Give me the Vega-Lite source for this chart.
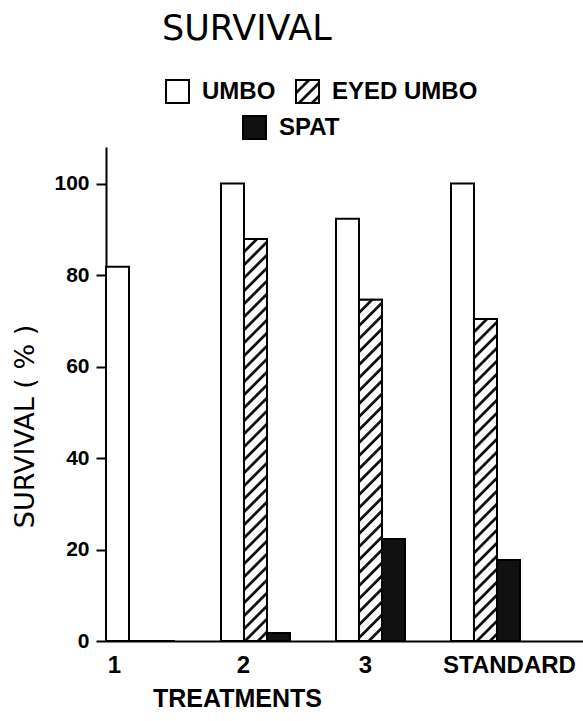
{
  "$schema": "https://vega.github.io/schema/vega-lite/v6.json",
  "width": 477,
  "height": 494,
  "autosize": {"type": "none"},
  "padding": {"left": 106, "top": 147, "right": 0, "bottom": 80},
  "background": "white",
  "config": {
    "view": {"stroke": null},
    "font": "Liberation Sans",
    "legend": {
      "orient": "none",
      "direction": "horizontal",
      "title": null,
      "symbolType": "square",
      "symbolSize": 529,
      "symbolStrokeColor": "black",
      "symbolStrokeWidth": 2,
      "symbolOpacity": 1,
      "labelFont": "Liberation Sans",
      "labelFontSize": 24,
      "labelFontWeight": "bold",
      "labelColor": "black",
      "labelOffset": 12,
      "labelLimit": 300,
      "columnPadding": 16,
      "padding": 0
    }
  },
  "params": [
    {"name": "hatchStops", "value": [
      {"offset":0,"color":"#fff"},
      {"offset":0.020,"color":"#fff"},{"offset":0.0225,"color":"#111"},{"offset":0.0275,"color":"#111"},{"offset":0.030,"color":"#fff"},
      {"offset":0.045,"color":"#fff"},{"offset":0.0475,"color":"#111"},{"offset":0.0525,"color":"#111"},{"offset":0.055,"color":"#fff"},
      {"offset":0.070,"color":"#fff"},{"offset":0.0725,"color":"#111"},{"offset":0.0775,"color":"#111"},{"offset":0.080,"color":"#fff"},
      {"offset":0.095,"color":"#fff"},{"offset":0.0975,"color":"#111"},{"offset":0.1025,"color":"#111"},{"offset":0.105,"color":"#fff"},
      {"offset":0.120,"color":"#fff"},{"offset":0.1225,"color":"#111"},{"offset":0.1275,"color":"#111"},{"offset":0.130,"color":"#fff"},
      {"offset":0.145,"color":"#fff"},{"offset":0.1475,"color":"#111"},{"offset":0.1525,"color":"#111"},{"offset":0.155,"color":"#fff"},
      {"offset":0.170,"color":"#fff"},{"offset":0.1725,"color":"#111"},{"offset":0.1775,"color":"#111"},{"offset":0.180,"color":"#fff"},
      {"offset":0.195,"color":"#fff"},{"offset":0.1975,"color":"#111"},{"offset":0.2025,"color":"#111"},{"offset":0.205,"color":"#fff"},
      {"offset":0.220,"color":"#fff"},{"offset":0.2225,"color":"#111"},{"offset":0.2275,"color":"#111"},{"offset":0.230,"color":"#fff"},
      {"offset":0.245,"color":"#fff"},{"offset":0.2475,"color":"#111"},{"offset":0.2525,"color":"#111"},{"offset":0.255,"color":"#fff"},
      {"offset":0.270,"color":"#fff"},{"offset":0.2725,"color":"#111"},{"offset":0.2775,"color":"#111"},{"offset":0.280,"color":"#fff"},
      {"offset":0.295,"color":"#fff"},{"offset":0.2975,"color":"#111"},{"offset":0.3025,"color":"#111"},{"offset":0.305,"color":"#fff"},
      {"offset":0.320,"color":"#fff"},{"offset":0.3225,"color":"#111"},{"offset":0.3275,"color":"#111"},{"offset":0.330,"color":"#fff"},
      {"offset":0.345,"color":"#fff"},{"offset":0.3475,"color":"#111"},{"offset":0.3525,"color":"#111"},{"offset":0.355,"color":"#fff"},
      {"offset":0.370,"color":"#fff"},{"offset":0.3725,"color":"#111"},{"offset":0.3775,"color":"#111"},{"offset":0.380,"color":"#fff"},
      {"offset":0.395,"color":"#fff"},{"offset":0.3975,"color":"#111"},{"offset":0.4025,"color":"#111"},{"offset":0.405,"color":"#fff"},
      {"offset":0.420,"color":"#fff"},{"offset":0.4225,"color":"#111"},{"offset":0.4275,"color":"#111"},{"offset":0.430,"color":"#fff"},
      {"offset":0.445,"color":"#fff"},{"offset":0.4475,"color":"#111"},{"offset":0.4525,"color":"#111"},{"offset":0.455,"color":"#fff"},
      {"offset":0.470,"color":"#fff"},{"offset":0.4725,"color":"#111"},{"offset":0.4775,"color":"#111"},{"offset":0.480,"color":"#fff"},
      {"offset":0.495,"color":"#fff"},{"offset":0.4975,"color":"#111"},{"offset":0.5025,"color":"#111"},{"offset":0.505,"color":"#fff"},
      {"offset":0.520,"color":"#fff"},{"offset":0.5225,"color":"#111"},{"offset":0.5275,"color":"#111"},{"offset":0.530,"color":"#fff"},
      {"offset":0.545,"color":"#fff"},{"offset":0.5475,"color":"#111"},{"offset":0.5525,"color":"#111"},{"offset":0.555,"color":"#fff"},
      {"offset":0.570,"color":"#fff"},{"offset":0.5725,"color":"#111"},{"offset":0.5775,"color":"#111"},{"offset":0.580,"color":"#fff"},
      {"offset":0.595,"color":"#fff"},{"offset":0.5975,"color":"#111"},{"offset":0.6025,"color":"#111"},{"offset":0.605,"color":"#fff"},
      {"offset":0.620,"color":"#fff"},{"offset":0.6225,"color":"#111"},{"offset":0.6275,"color":"#111"},{"offset":0.630,"color":"#fff"},
      {"offset":0.645,"color":"#fff"},{"offset":0.6475,"color":"#111"},{"offset":0.6525,"color":"#111"},{"offset":0.655,"color":"#fff"},
      {"offset":0.670,"color":"#fff"},{"offset":0.6725,"color":"#111"},{"offset":0.6775,"color":"#111"},{"offset":0.680,"color":"#fff"},
      {"offset":0.695,"color":"#fff"},{"offset":0.6975,"color":"#111"},{"offset":0.7025,"color":"#111"},{"offset":0.705,"color":"#fff"},
      {"offset":0.720,"color":"#fff"},{"offset":0.7225,"color":"#111"},{"offset":0.7275,"color":"#111"},{"offset":0.730,"color":"#fff"},
      {"offset":0.745,"color":"#fff"},{"offset":0.7475,"color":"#111"},{"offset":0.7525,"color":"#111"},{"offset":0.755,"color":"#fff"},
      {"offset":0.770,"color":"#fff"},{"offset":0.7725,"color":"#111"},{"offset":0.7775,"color":"#111"},{"offset":0.780,"color":"#fff"},
      {"offset":0.795,"color":"#fff"},{"offset":0.7975,"color":"#111"},{"offset":0.8025,"color":"#111"},{"offset":0.805,"color":"#fff"},
      {"offset":0.820,"color":"#fff"},{"offset":0.8225,"color":"#111"},{"offset":0.8275,"color":"#111"},{"offset":0.830,"color":"#fff"},
      {"offset":0.845,"color":"#fff"},{"offset":0.8475,"color":"#111"},{"offset":0.8525,"color":"#111"},{"offset":0.855,"color":"#fff"}
    ]}
  ],
  "title": {
    "text": "SURVIVAL",
    "anchor": "start",
    "frame": "group",
    "dx": 56,
    "offset": 32,
    "font": "DejaVu Sans",
    "fontSize": 35,
    "fontWeight": "normal",
    "color": "black"
  },
  "data": {
    "values": [
      {"treatment": "1", "stage": "UMBO", "survival": 81.8},
      {"treatment": "1", "stage": "EYED UMBO", "survival": 0},
      {"treatment": "1", "stage": "SPAT", "survival": 0},
      {"treatment": "2", "stage": "UMBO", "survival": 100},
      {"treatment": "2", "stage": "EYED UMBO", "survival": 87.9},
      {"treatment": "2", "stage": "SPAT", "survival": 1.75},
      {"treatment": "3", "stage": "UMBO", "survival": 92.3},
      {"treatment": "3", "stage": "EYED UMBO", "survival": 74.6},
      {"treatment": "3", "stage": "SPAT", "survival": 22.3},
      {"treatment": "STANDARD", "stage": "UMBO", "survival": 100},
      {"treatment": "STANDARD", "stage": "EYED UMBO", "survival": 70.4},
      {"treatment": "STANDARD", "stage": "SPAT", "survival": 17.7}
    ]
  },
  "encoding": {
    "x": {
      "field": "treatment",
      "type": "nominal",
      "sort": ["1", "2", "3", "STANDARD"],
      "scale": {"domain": ["1", "2", "3", "STANDARD"], "paddingInner": 0.4, "paddingOuter": 0.274, "align": 0},
      "axis": {
        "title": "TREATMENTS",
        "titleFont": "Liberation Sans",
        "titleFontSize": 25,
        "titleFontWeight": "bold",
        "titleColor": "black",
        "titleX": 131,
        "titleY": 45,
        "titleAlign": "center",
        "titleBaseline": "top",
        "labelAngle": 0,
        "labelFont": "Liberation Sans",
        "labelFontSize": 24,
        "labelFontWeight": "bold",
        "labelColor": "black",
        "labelPadding": 12,
        "ticks": false,
        "tickSize": 0,
        "domainColor": "black",
        "domainWidth": 2,
        "labelOffset": {
          "condition": [
            {"test": "datum.value === '1'", "value": -26},
            {"test": "datum.value === '2'", "value": -12},
            {"test": "datum.value === '3'", "value": -5}
          ],
          "value": 24
        }
      }
    },
    "xOffset": {
      "field": "stage",
      "type": "nominal",
      "sort": ["UMBO", "EYED UMBO", "SPAT"],
      "scale": {"domain": ["UMBO", "EYED UMBO", "SPAT"], "paddingInner": 0, "paddingOuter": 0}
    },
    "y": {
      "field": "survival",
      "type": "quantitative",
      "scale": {"domain": [0, 108], "nice": false, "zero": true},
      "axis": {
        "values": [0, 20, 40, 60, 80, 100],
        "title": "SURVIVAL ( % )",
        "titleFont": "DejaVu Sans",
        "titleFontSize": 27,
        "titleFontWeight": "normal",
        "titleColor": "black",
        "titleAngle": 270,
        "titleX": -81,
        "titleY": 279,
        "titleAlign": "center",
        "titleBaseline": "middle",
        "labelFont": "Liberation Sans",
        "labelFontSize": 21,
        "labelFontWeight": "bold",
        "labelColor": "black",
        "labelPadding": 7,
        "tickSize": 10,
        "tickWidth": 2,
        "tickColor": "black",
        "domainColor": "black",
        "domainWidth": 2,
        "grid": false,
        "labelFlush": false,
        "labelOverlap": false
      }
    }
  },
  "layer": [
    {
      "mark": {"type": "bar", "stroke": "black", "strokeWidth": 2},
      "encoding": {
        "fill": {
          "field": "stage",
          "type": "nominal",
          "scale": {
            "domain": ["UMBO", "EYED UMBO", "SPAT"],
            "range": ["white", {"expr": "{gradient: 'linear', x1: 0, y1: 0, x2: 11.3, y2: 11.3, stops: hatchStops}"}, "#111"]
          },
          "legend": {
            "values": ["UMBO", "EYED UMBO"],
            "legendX": 59,
            "legendY": -68,
            "encode": {"symbols": {"update": {"stroke": {"value": "black"}, "strokeWidth": {"value": 2}, "opacity": {"value": 1}}}}
          }
        }
      }
    },
    {
      "transform": [{"filter": "datum.stage === 'EYED UMBO'"}],
      "mark": {
        "type": "bar",
        "stroke": "black",
        "strokeWidth": 2,
        "fill": {"expr": "{gradient: 'linear', x1: 0, y1: 0, x2: bandwidth('xOffset')*520/(pow(bandwidth('xOffset'),2)+pow(scale('y',0)-scale('y',datum.survival),2)), y2: (scale('y',0)-scale('y',datum.survival))*520/(pow(bandwidth('xOffset'),2)+pow(scale('y',0)-scale('y',datum.survival),2)), stops: hatchStops}"}
      }
    },
    {
      "transform": [{"filter": "datum.stage === 'SPAT'"}],
      "mark": {"type": "bar", "stroke": "black", "strokeWidth": 2},
      "encoding": {
        "fill": {
          "field": "stage",
          "type": "nominal",
          "scale": {"domain": ["SPAT"], "range": ["#111"]},
          "legend": {
            "legendX": 136,
            "legendY": -32,
            "encode": {"symbols": {"update": {"stroke": {"value": "black"}, "strokeWidth": {"value": 2}, "opacity": {"value": 1}}}}
          }
        }
      }
    }
  ],
  "resolve": {"scale": {"fill": "independent"}, "legend": {"fill": "independent"}}
}
